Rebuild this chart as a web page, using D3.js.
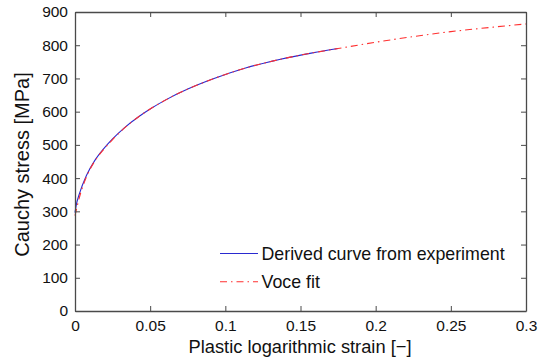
<!DOCTYPE html>
<html>
<head>
<meta charset="utf-8">
<script src="https://cdn.jsdelivr.net/npm/d3@7"></script>
<style>
  body { margin: 0; background: #fff; }
  svg text { font-family: "Liberation Sans", Arial, sans-serif; fill: #111; }
</style>
</head>
<body>
<div id="container"></div>
<script>
var width = 540;
var height = 361;
var margin = { top: 12, right: 14, bottom: 50, left: 75 };

// experiment curve
var strainExp = [0, 0.0008, 0.003, 0.0076, 0.013, 0.019, 0.025, 0.033, 0.043, 0.05, 0.061, 0.075, 0.092, 0.114, 0.136, 0.158, 0.175];
var stressExp = [296, 318, 354, 408, 452, 488, 518, 552, 587, 608, 637, 668, 699, 732, 757, 777, 790];

// Voce fit
var strainFit = [0, 0.003, 0.008, 0.013, 0.019, 0.025, 0.033, 0.043, 0.05, 0.061, 0.075, 0.092, 0.114, 0.136, 0.158, 0.175, 0.2, 0.225, 0.25, 0.275, 0.3];
var stressFit = [287, 343, 408, 450, 486, 516, 551, 587, 608, 637, 668, 699, 732, 757, 777, 790, 809, 826, 841, 853, 864];

var xTicks = [0, 0.05, 0.1, 0.15, 0.2, 0.25, 0.3];
var xTickLabels = ["0", "0.05", "0.1", "0.15", "0.2", "0.25", "0.3"];
var yTicks = [0, 100, 200, 300, 400, 500, 600, 700, 800, 900];

var legendLabels = ["Derived curve from experiment", "Voce fit"];

var axisColor = "#4a4a4a";

var x = d3.scaleLinear().domain([0, 0.3]).range([margin.left, width - margin.right]);
var y = d3.scaleLinear().domain([0, 900]).range([height - margin.bottom, margin.top]);

const svg = d3.create("svg")
    .attr("width", width)
    .attr("height", height);

// curves
var line = d3.line()
    .x(function(d) { return x(d[0]); })
    .y(function(d) { return y(d[1]); })
    .curve(d3.curveMonotoneX);

svg.append("path")
    .datum(d3.zip(strainExp, stressExp))
    .attr("fill", "none")
    .attr("stroke", "#2a2ad0")
    .attr("stroke-width", 1.1)
    .attr("d", line);

svg.append("path")
    .datum(d3.zip(strainFit, stressFit))
    .attr("fill", "none")
    .attr("stroke", "#ff3030")
    .attr("stroke-width", 1.1)
    .attr("stroke-dasharray", "7,4,1.5,4")
    .attr("d", line);

// axes, inward ticks on all four sides
function styleAxis(g) {
    g.select(".domain").attr("stroke", axisColor).attr("stroke-width", 1.3);
    g.selectAll(".tick line").attr("stroke", axisColor).attr("stroke-width", 1);
    g.selectAll(".tick text")
        .attr("font-size", 15.5)
        .attr("font-family", "Liberation Sans, Arial, sans-serif")
        .attr("fill", "#111");
}

svg.append("g")
    .attr("transform", "translate(0," + y(0) + ")")
    .call(d3.axisBottom(x).tickValues(xTicks)
        .tickFormat(function(d, i) { return xTickLabels[i]; })
        .tickSizeInner(-5).tickSizeOuter(0).tickPadding(9))
    .call(styleAxis);

svg.append("g")
    .attr("transform", "translate(0," + y(900) + ")")
    .call(d3.axisTop(x).tickValues(xTicks).tickFormat("")
        .tickSizeInner(-5).tickSizeOuter(0))
    .call(styleAxis);

svg.append("g")
    .attr("transform", "translate(" + x(0) + ",0)")
    .call(d3.axisLeft(y).tickValues(yTicks)
        .tickSizeInner(-5).tickSizeOuter(0).tickPadding(7))
    .call(styleAxis);

svg.append("g")
    .attr("transform", "translate(" + x(0.3) + ",0)")
    .call(d3.axisRight(y).tickValues(yTicks).tickFormat("")
        .tickSizeInner(-5).tickSizeOuter(0))
    .call(styleAxis);

// axis labels
svg.append("text")
    .attr("x", 300)
    .attr("y", 353)
    .attr("text-anchor", "middle")
    .attr("font-size", 18.3)
    .text("Plastic logarithmic strain [\u2212]");

svg.append("text")
    .attr("transform", "translate(28.5,164.5) rotate(-90)")
    .attr("text-anchor", "middle")
    .attr("font-size", 20)
    .text("Cauchy stress [MPa]");

// legend
var legend = svg.append("g");
var legendStyles = [
    { stroke: "#2a2ad0", dash: null },
    { stroke: "#ff3030", dash: "7,4,1.5,4" }
];
legendLabels.forEach(function(label, i) {
    var ly = 253.5 + i * 28.2;
    legend.append("line")
        .attr("x1", 220).attr("x2", 258)
        .attr("y1", ly).attr("y2", ly)
        .attr("stroke", legendStyles[i].stroke)
        .attr("stroke-width", 1.1)
        .attr("stroke-dasharray", legendStyles[i].dash);
    legend.append("text")
        .attr("x", 261.5)
        .attr("y", ly + 6.5)
        .attr("font-size", 17.8)
        .text(label);
});

document.getElementById("container").append(svg.node());
</script>
</body>
</html>
